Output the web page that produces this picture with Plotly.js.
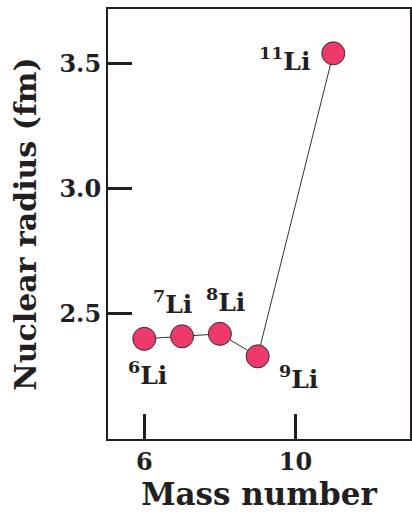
<!DOCTYPE html>
<html>
<head>
<meta charset="utf-8">
<script src="https://cdn.plot.ly/plotly-3.0.1.min.js"></script>
<style>html,body{margin:0;padding:0;background:#fff;}#chart{width:412px;height:514px;}</style>
</head>
<body>
<div id="chart"></div>
<script>
const massNumbers = [6, 7, 8, 9, 11];
const radii = [2.40, 2.41, 2.42, 2.33, 3.54];
const isotopeLabels = ["<sup>6</sup>Li", "<sup>7</sup>Li", "<sup>8</sup>Li", "<sup>9</sup>Li", "<sup>11</sup>Li"];
const xTickValues = [6, 10];
const yTickValues = [2.5, 3.0, 3.5];
const yTickLabels = ["2.5", "3.0", "3.5"];

const labelShifts = [[3, -35], [-10, 34], [6, 33], [41, -21], [-49, -6]];
const serif = "'DejaVu Serif', 'Liberation Serif', serif";
const ink = "#231f20";

const trace = {
  x: massNumbers, y: radii, mode: "lines+markers", type: "scatter",
  line: {color: "#333", width: 1},
  marker: {size: 23, color: "#ee3a6a", line: {color: "#3a2a2a", width: 1}},
  hoverinfo: "skip"
};

const annotations = massNumbers.map((m, i) => ({
  x: m, y: radii[i], xref: "x", yref: "y", text: isotopeLabels[i], showarrow: false,
  xshift: labelShifts[i][0], yshift: labelShifts[i][1],
  font: {family: serif, size: 25, color: ink, weight: "bold"}
}));

const layout = {
  width: 412, height: 514,
  margin: {l: 108, r: 2, t: 9, b: 75},
  paper_bgcolor: "#fff", plot_bgcolor: "#fff",
  showlegend: false,
  font: {family: serif, color: ink, weight: "bold"},
  xaxis: {
    range: [5.04, 13.03], tickvals: xTickValues, ticktext: xTickValues.map(String),
    ticks: "inside", ticklen: 25, tickwidth: 3, tickcolor: ink,
    showline: true, linewidth: 2, linecolor: ink, mirror: true,
    showgrid: false, zeroline: false,
    tickfont: {family: serif, size: 24, color: ink, weight: "bold"},
    title: {text: "Mass number", font: {family: serif, size: 31, color: ink, weight: "bold"}, standoff: 2}
  },
  yaxis: {
    range: [2.0, 3.717], tickvals: yTickValues, ticktext: yTickLabels,
    ticks: "inside", ticklen: 24, tickwidth: 3, tickcolor: ink,
    showline: true, linewidth: 2, linecolor: ink, mirror: true,
    showgrid: false, zeroline: false,
    tickfont: {family: serif, size: 24, color: ink, weight: "bold"},
    title: {text: "Nuclear radius (fm)", font: {family: serif, size: 30, color: ink, weight: "bold"}, standoff: 14}
  },
  annotations: annotations
};

Plotly.newPlot("chart", [trace], layout, {displayModeBar: false, staticPlot: true});
</script>
</body>
</html>
